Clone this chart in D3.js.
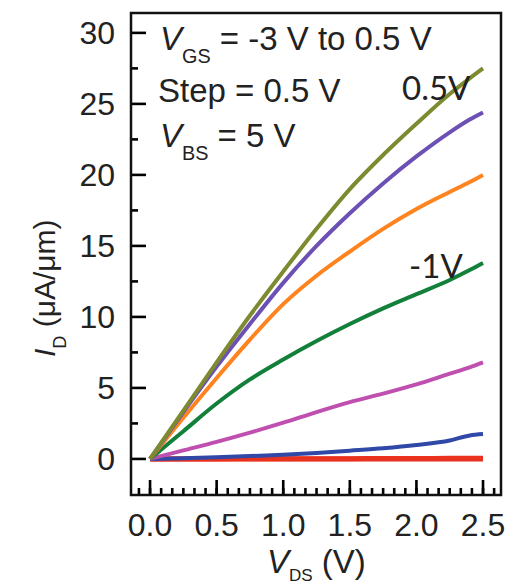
<!DOCTYPE html>
<html>
<head>
<meta charset="utf-8">
<script src="https://cdn.jsdelivr.net/npm/d3@7"></script>
<style>
  html, body { margin: 0; padding: 0; background: #ffffff; }
  svg { display: block; }
  text { font-family: "Liberation Sans", Arial, sans-serif; fill: #222; }
</style>
</head>
<body>
<svg id="chart" width="522" height="584"></svg>
<script>
// ---- data ----
const vds = [0, 0.25, 0.5, 0.75, 1.0, 1.25, 1.5, 1.75, 2.0, 2.25, 2.4, 2.5];
const vgsLabels = ["-3 V", "-2.5 V", "-2 V", "-1.5 V", "-1 V", "-0.5 V", "0 V", "0.5 V"];
const id_m3   = [0, 0.0, 0.0, 0.0, 0.0, 0.0, 0.0, 0.0, 0.0, 0.0, 0.0, 0.0];
const id_m25  = [0, 0.0, 0.0, 0.01, 0.01, 0.02, 0.02, 0.03, 0.03, 0.04, 0.04, 0.05];
const id_m2   = [0, 0.05, 0.12, 0.2, 0.3, 0.42, 0.58, 0.75, 0.98, 1.3, 1.65, 1.75];
const id_m15  = [0, 0.6, 1.2, 1.85, 2.55, 3.3, 4.0, 4.6, 5.25, 6.0, 6.45, 6.8];
const id_m1   = [0, 1.95, 3.9, 5.6, 7.0, 8.3, 9.5, 10.6, 11.6, 12.6, 13.3, 13.8];
const id_m05  = [0, 2.9, 5.7, 8.4, 10.9, 12.9, 14.6, 16.2, 17.6, 18.8, 19.5, 20.0];
const id_0    = [0, 3.3, 6.5, 9.5, 12.4, 15.0, 17.3, 19.4, 21.3, 23.0, 23.9, 24.4];
const id_05   = [0, 3.4, 6.8, 10.1, 13.2, 16.2, 19.0, 21.4, 23.6, 25.7, 26.8, 27.5];
const seriesColors = ["#e8321e", "#e8321e", "#3048a8", "#c050b0", "#12803a", "#ff8420", "#6c50b4", "#7e8a30"];
const xMajorTicks = [0, 0.5, 1.0, 1.5, 2.0, 2.5];
const xTickLabels = ["0.0", "0.5", "1.0", "1.5", "2.0", "2.5"];
const yMajorTicks = [0, 5, 10, 15, 20, 25, 30];
const yTickLabels = ["0", "5", "10", "15", "20", "25", "30"];
const yMinorTicks = [2.5, 7.5, 12.5, 17.5, 22.5, 27.5];

// ---- scales ----
const svg = d3.select("#chart");
const L = 131, R = 501, T = 13, B = 495;
const x = d3.scaleLinear().domain([-0.143, 2.635]).range([L, R]);
const y = d3.scaleLinear().domain([-2.54, 31.4]).range([B, T]);

// ---- curves ----
const allSeries = [id_m3, id_m25, id_m2, id_m15, id_m1, id_m05, id_0, id_05];
const line = d3.line().x((d, i) => x(vds[i])).y(d => y(d)).curve(d3.curveMonotoneX);
allSeries.forEach((s, k) => {
  svg.append("path").datum(s)
    .attr("d", line)
    .attr("fill", "none")
    .attr("stroke", seriesColors[k])
    .attr("stroke-width", k < 2 ? 5 : 4)
    .attr("stroke-linejoin", "round");
});

// ---- inward ticks: each tick is a short polyline through the scales ----
const xMinorTicks = d3.range(-1, 32).map(i => i / 12);
const seg = d3.line();
const tickSegs = [];
xMinorTicks.forEach(v => tickSegs.push([[x(v), B], [x(v), B - 7]]));
xMajorTicks.forEach(v => tickSegs.push([[x(v), B], [x(v), B - 15]]));
yMinorTicks.forEach(v => tickSegs.push([[L, y(v)], [L + 7, y(v)]]));
yMajorTicks.forEach(v => tickSegs.push([[L, y(v)], [L + 15, y(v)]]));
svg.append("g").attr("class", "ticks")
  .selectAll("path").data(tickSegs).join("path")
  .attr("d", d => seg(d))
  .attr("fill", "none").attr("stroke", "#000").attr("stroke-width", 2.6);

// frame
svg.append("path").attr("d", `M${L},${T}H${R}V${B}H${L}Z`)
  .attr("fill", "none").attr("stroke", "#111").attr("stroke-width", 2.5);

// tick labels
svg.selectAll("text.xl").data(xMajorTicks).join("text").attr("class", "xl")
  .attr("x", d => x(d)).attr("y", 536).attr("text-anchor", "middle")
  .style("font-size", "32px").text((d, i) => xTickLabels[i]);
svg.selectAll("text.yl").data(yMajorTicks).join("text").attr("class", "yl")
  .attr("x", 115).attr("y", d => y(d) + 11).attr("text-anchor", "end")
  .style("font-size", "32px").text((d, i) => yTickLabels[i]);

// ---- legend text ----
function subText(xp, yp, main, sub, rest, size) {
  const t = svg.append("text").attr("x", xp).attr("y", yp).style("font-size", size + "px");
  t.append("tspan").text(main).style("font-style", "italic");
  t.append("tspan").text(sub).attr("dy", 13).style("font-size", (size * 0.6) + "px");
  t.append("tspan").text(rest).attr("dy", -13);
  return t;
}
subText(160, 50, "V", "GS", " = -3 V to 0.5 V", 33);
svg.append("text").attr("x", 158).attr("y", 102).style("font-size", "33px").text("Step = 0.5 V");
subText(160, 147, "V", "BS", " = 5 V", 33);

// annotations
svg.append("text").attr("x", 402).attr("y", 100).style("font-size", "33px")
  .style("font-family", "Lato, sans-serif").attr("fill", "#000").text("0.5V");
svg.append("text").attr("x", 409).attr("y", 278).style("font-size", "33px")
  .style("font-family", "Lato, sans-serif").attr("fill", "#000").text("-1V");

// ---- axis titles ----
const yt = svg.append("text").attr("transform", "translate(55,357) rotate(-90)").style("font-size", "30px");
yt.append("tspan").text("I").style("font-style", "italic");
yt.append("tspan").text("D").attr("dy", 11).style("font-size", "18px");
yt.append("tspan").text(" (μA/μm)").attr("dy", -11);

const xt = svg.append("text").attr("x", 267).attr("y", 573).style("font-size", "33px");
xt.append("tspan").text("V").style("font-style", "italic");
xt.append("tspan").text("DS").attr("dy", 8).style("font-size", "17px");
xt.append("tspan").text(" (V)").attr("dy", -8);
</script>
</body>
</html>
